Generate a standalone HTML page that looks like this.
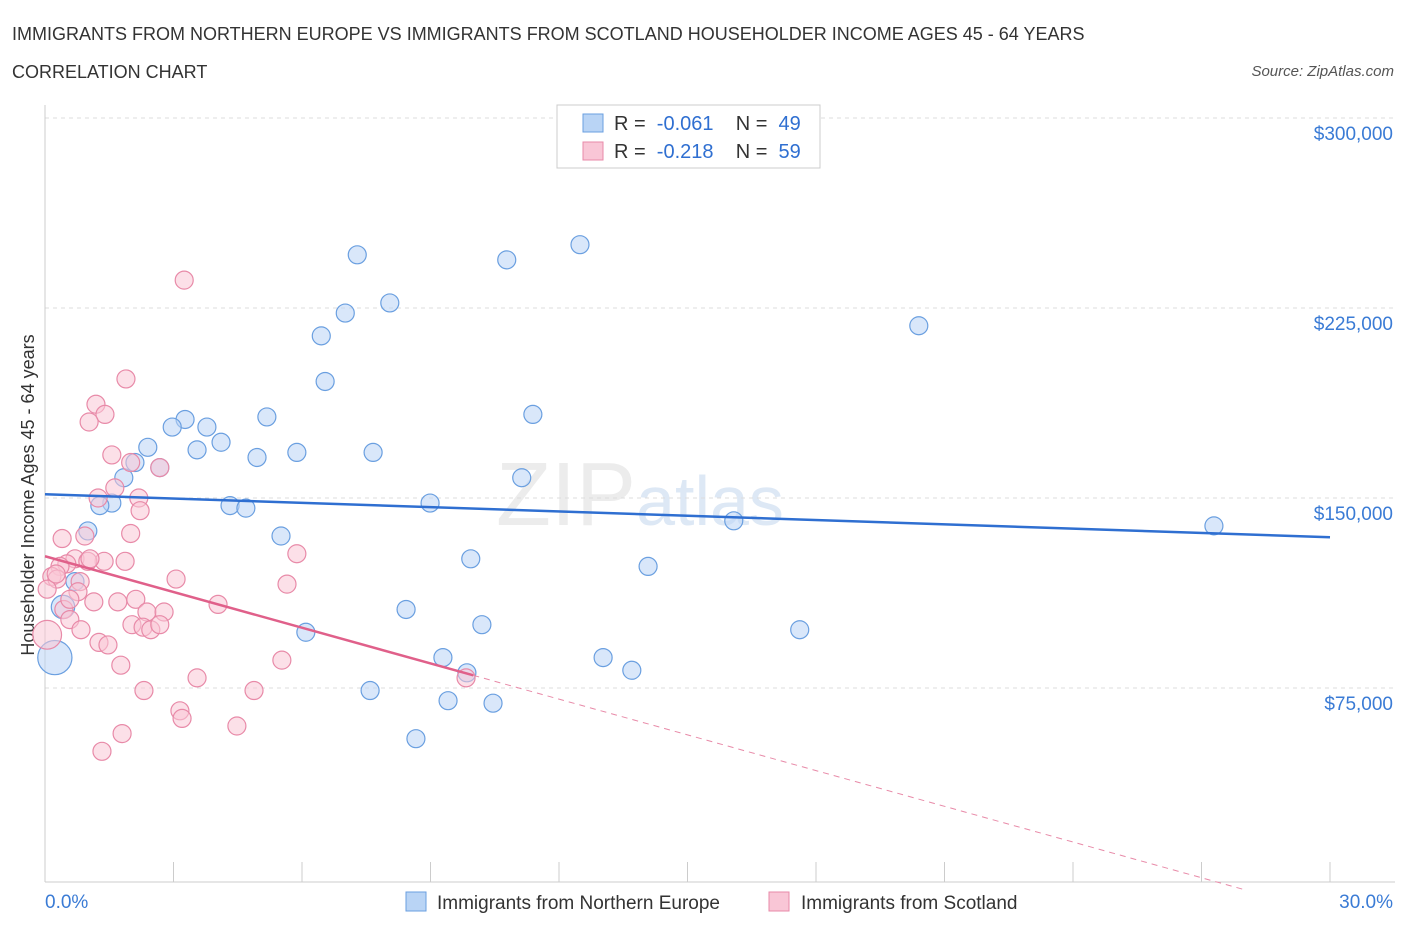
<!DOCTYPE html>
<html><head><meta charset="utf-8"><style>
body{margin:0;background:#fff;font-family:"Liberation Sans",sans-serif;}
svg text{font-family:"Liberation Sans",sans-serif;}
</style></head><body>
<svg id="c" width="1406" height="930">
<text x="12" y="40" font-size="18" fill="#333">IMMIGRANTS FROM NORTHERN EUROPE VS IMMIGRANTS FROM SCOTLAND HOUSEHOLDER INCOME AGES 45 - 64 YEARS</text>
<text x="12" y="78" font-size="18" fill="#333">CORRELATION CHART</text>
<text x="1394" y="76" font-size="15" fill="#555" font-style="italic" text-anchor="end">Source: ZipAtlas.com</text>
<text x="640" y="525" font-size="90" fill="#ececec" font-family="Liberation Serif" text-anchor="middle">ZIP<tspan fill="#dde8f5" font-family="Liberation Sans" font-size="70">atlas</tspan></text>
<text transform="translate(34,495) rotate(-90)" font-size="18" fill="#333" text-anchor="middle">Householder Income Ages 45 - 64 years</text>
<g id="grid"></g><g id="marks"></g>
<g>
<rect x="557" y="105" width="263" height="63" fill="#fff" stroke="#ccc"/>
<rect x="583" y="114" width="20" height="18" fill="#b9d4f5" stroke="#6a9fe0"/>
<text x="614" y="130" font-size="20" fill="#333" xml:space="preserve">R =  <tspan fill="#2f6fd1">-0.061</tspan>    N =  <tspan fill="#2f6fd1">49</tspan></text>
<rect x="583" y="142" width="20" height="18" fill="#f9c6d6" stroke="#e88aa8"/>
<text x="614" y="158" font-size="20" fill="#333" xml:space="preserve">R =  <tspan fill="#2f6fd1">-0.218</tspan>    N =  <tspan fill="#2f6fd1">59</tspan></text>
</g>
<g>
<rect x="406" y="892" width="20" height="19" fill="#b9d4f5" stroke="#6a9fe0"/>
<text x="437" y="909" font-size="19" fill="#333">Immigrants from Northern Europe</text>
<rect x="769" y="892" width="20" height="19" fill="#f9c6d6" stroke="#e88aa8"/>
<text x="801" y="909" font-size="19" fill="#333">Immigrants from Scotland</text>
</g>
</svg>
<script>
const yTicks=[75000,150000,225000,300000];
const yTickLabels=["$75,000","$150,000","$225,000","$300,000"];
const xLabels=["0.0%","30.0%"];
const blueX=[7.29,10.78,12.49,8.05,7.01,6.45,20.4,6.54,11.39,5.18,3.27,2.97,3.78,4.11,2.4,3.55,4.95,5.88,7.66,2.1,2.68,1.84,11.13,1.56,1.28,4.32,4.69,8.99,16.08,27.29,5.51,1.0,9.94,14.08,0.7,8.43,0.42,10.2,6.09,17.62,0.23,9.29,13.03,13.7,7.59,9.41,10.46,8.66,9.85];
const blueY=[246000,244000,250000,227000,223000,214000,218000,196000,183000,182000,181000,178000,178000,172000,170000,169000,166000,168000,168000,164000,162000,158000,158000,148000,147000,147000,146000,148000,141000,139000,135000,137000,126000,123000,117000,106000,107000,100000,97000,98000,87000,87000,87000,82000,74000,70000,69000,55000,81000];
const blueS=[1,1,1,1,1,1,1,1,1,1,1,1,1,1,1,1,1,1,1,1,1,1,1,1,1,1,1,1,1,1,1,1,1,1,1,1,1.3,1,1,1,1.9,1,1,1,1,1,1,1,1];
const pinkX=[3.25,1.89,1.19,1.4,1.03,1.56,2.0,2.68,1.63,1.24,2.19,0.93,0.4,2.0,5.88,0.7,1.38,1.0,0.51,0.35,0.16,0.28,0.82,3.06,5.65,0.05,0.77,1.14,1.7,4.04,2.12,0.44,2.38,2.78,0.58,2.03,2.29,0.84,2.47,2.68,0.05,1.26,1.47,5.53,1.77,3.55,2.31,4.88,3.15,3.2,4.48,1.8,1.33,9.83,0.26,0.58,1.05,1.87,2.22];
const pinkY=[236000,197000,187000,183000,180000,167000,164000,162000,154000,150000,150000,135000,134000,136000,128000,126000,125000,125000,124000,123000,119000,118000,117000,118000,116000,114000,113000,109000,109000,108000,110000,106000,105000,105000,102000,100000,99000,98000,98000,100000,96000,93000,92000,86000,84000,79000,74000,74000,66000,63000,60000,57000,50000,79000,120000,110000,126000,125000,145000];
const pinkS=[1,1,1,1,1,1,1,1,1,1,1,1,1,1,1,1,1,1,1,1,1,1,1,1,1,1,1,1,1,1,1,1,1,1,1,1,1,1,1,1,1.6,1,1,1,1,1,1,1,1,1,1,1,1,1,1,1,1,1,1];
const blueTrend=[151500,134500];
const pinkTrend=[127000,80000];
const NS="http://www.w3.org/2000/svg";
const X=v=>45+v/30*1285, Y=v=>498-(v-150000)/75000*190;
function mk(t,a,p){const e=document.createElementNS(NS,t);for(const k in a)e.setAttribute(k,a[k]);p.appendChild(e);return e;}
const g=document.getElementById('grid'),m=document.getElementById('marks');
yTicks.forEach((v,i)=>{
 const l=mk('line',{x1:45,x2:1395,y1:Y(v),y2:Y(v),stroke:'#ddd','stroke-dasharray':'4,4'},g);
 
 
 const t=mk('text',{x:1393,y:Y(v)+22,'font-size':19,fill:'#3a7bd5','text-anchor':'end'},g);t.textContent=yTickLabels[i];
 
 
});
mk('line',{x1:45,x2:45,y1:105,y2:882,stroke:'#ccc'},g);
mk('line',{x1:45,x2:1395,y1:882,y2:882,stroke:'#ccc'},g);
for(let i=1;i<=10;i++){const x=X(i*3);mk('line',{x1:x,x2:x,y1:862,y2:882,stroke:'#ccc'},g);}
[[0,'start',45],[1,'end',1393]].forEach(([i,a,x])=>{const t=mk('text',{x:x,y:908,'font-size':19,fill:'#3a7bd5','text-anchor':a},g);t.textContent=xLabels[i];
 
 });
function pts(xs,ys,ss,f,s,name){xs.forEach((x,i)=>{const c=mk('circle',{cx:X(x),cy:Y(ys[i]),r:9*ss[i],fill:f,'fill-opacity':0.55,stroke:s,'stroke-width':1.2},m);
 
 });}
pts(blueX,blueY,blueS,'#b9d4f5','#6a9fe0','northern-europe-point');
pts(pinkX,pinkY,pinkS,'#f9c6d6','#e88aa8','scotland-point');
const bl=mk('line',{x1:X(0),y1:Y(blueTrend[0]),x2:X(30),y2:Y(blueTrend[1]),stroke:'#2f6fd1','stroke-width':2.5},m);


const slope=(pinkTrend[1]-pinkTrend[0])/10;
const pl=mk('line',{x1:X(0),y1:Y(pinkTrend[0]),x2:X(10),y2:Y(pinkTrend[1]),stroke:'#e0608a','stroke-width':2.5},m);


const xe=28; const pd=mk('line',{x1:X(10),y1:Y(pinkTrend[1]),x2:X(xe),y2:Y(pinkTrend[0]+slope*xe),stroke:'#e88aa8','stroke-width':1,'stroke-dasharray':'6,5'},m);


</script>
</body></html>
